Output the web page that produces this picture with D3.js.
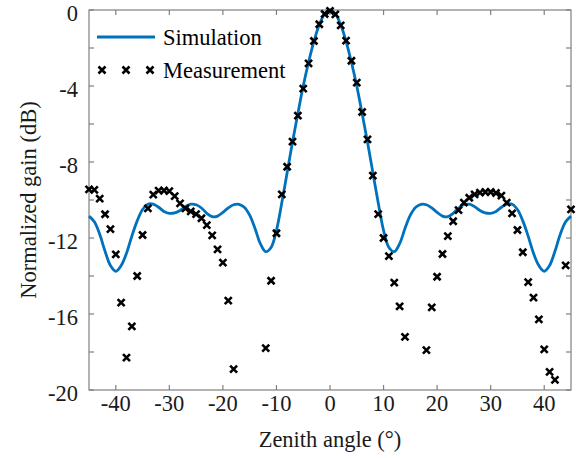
<!DOCTYPE html>
<html><head><meta charset="utf-8">
<script src="https://cdn.jsdelivr.net/npm/d3@7"></script>
<style>body{margin:0;background:#fff}svg{display:block}</style>
</head><body>
<script>
// ---- data ----
const simAngles = [-45,-44,-43,-42,-41,-40,-39,-38,-37,-36,-35,-34,-33,-32,-31,-30,-29,-28,-27,-26,-25,-24,-23,-22,-21,-20,-19,-18,-17,-16,-15,-14,-13,-12,-11,-10,-9,-8,-7,-6,-5,-4,-3,-2,-1,0,1,2,3,4,5,6,7,8,9,10,11,12,13,14,15,16,17,18,19,20,21,22,23,24,25,26,27,28,29,30,31,32,33,34,35,36,37,38,39,40,41,42,43,44,45];
const simGain = [-10.85,-11.15,-11.8,-12.7,-13.45,-13.75,-13.45,-12.8,-11.9,-11.1,-10.5,-10.22,-10.22,-10.38,-10.6,-10.7,-10.68,-10.55,-10.35,-10.22,-10.25,-10.42,-10.7,-10.88,-10.85,-10.65,-10.42,-10.25,-10.23,-10.38,-10.8,-11.5,-12.3,-12.72,-12.5,-11.6,-10.15,-8.55,-6.95,-5.45,-4.0,-2.75,-1.65,-0.78,-0.2,0,-0.2,-0.78,-1.65,-2.75,-4.0,-5.45,-6.95,-8.55,-10.15,-11.6,-12.5,-12.72,-12.3,-11.5,-10.8,-10.38,-10.23,-10.25,-10.42,-10.65,-10.85,-10.88,-10.7,-10.42,-10.25,-10.22,-10.35,-10.55,-10.68,-10.7,-10.6,-10.38,-10.22,-10.22,-10.5,-11.1,-11.9,-12.8,-13.45,-13.75,-13.45,-12.7,-11.8,-11.15,-10.85];
const measAngles = [-45,-44,-43,-42,-41,-40,-39,-38,-37,-36,-35,-34,-33,-32,-31,-30,-29,-28,-27,-26,-25,-24,-23,-22,-21,-20,-19,-18,-12,-11,-10,-9,-8,-7,-6,-5,-4,-3,-2,-1,0,1,2,3,4,5,6,7,8,9,10,11,12,13,14,18,19,20,21,22,23,24,25,26,27,28,29,30,31,32,33,34,35,36,37,38,39,40,41,42,44,45];
const measGain = [-9.44,-9.47,-9.93,-10.75,-11.53,-12.86,-15.4,-18.3,-16.65,-14.0,-11.84,-10.44,-9.72,-9.51,-9.5,-9.53,-9.8,-10.18,-10.44,-10.6,-10.74,-10.96,-11.32,-11.86,-12.6,-13.3,-15.3,-18.9,-17.8,-14.25,-11.75,-9.7,-8.25,-6.93,-5.56,-4.14,-2.81,-1.63,-0.75,-0.21,-0.05,-0.23,-0.81,-1.61,-2.67,-3.82,-5.37,-6.81,-8.72,-10.74,-12.0,-12.95,-14.35,-15.6,-17.2,-17.9,-15.65,-14.04,-12.84,-11.9,-11.12,-10.53,-10.14,-9.88,-9.7,-9.61,-9.58,-9.58,-9.63,-9.77,-10.14,-10.7,-11.58,-12.75,-14.32,-15.14,-16.28,-17.86,-19.05,-19.47,-13.44,-10.49];
const xTicks = [-40,-30,-20,-10,0,10,20,30,40];
const yTicks = [0,-2,-4,-6,-8,-10,-12,-14,-16,-18,-20];
const yLabels = [0,-4,-8,-12,-16,-20];
const seriesNames = ["Simulation","Measurement"];
const xTitle = "Zenith angle (°)";
const yTitle = "Normalized gain (dB)";

// ---- layout ----
const W = 576, H = 458;
const L = 89, R = 571, T = 10, B = 390;
const blue = "#0072BD", axisCol = "#808080";
const font = "'Liberation Serif','Times New Roman',serif";

const svg = d3.select("body").append("svg").attr("width", W).attr("height", H);
const x = d3.scaleLinear().domain([-45,45]).range([L,R]);
const y = d3.scaleLinear().domain([-20,0]).range([B,T]);

// box + ticks
const tl = 5;
const g = svg.append("g");
g.append("rect").attr("x",L).attr("y",T).attr("width",R-L).attr("height",B-T)
  .attr("fill","none").attr("stroke",axisCol).attr("stroke-width",1.2);
xTicks.forEach(t=>{
  g.append("line").attr("x1",x(t)).attr("x2",x(t)).attr("y1",B).attr("y2",B-tl).attr("stroke",axisCol).attr("stroke-width",1.2);
  g.append("line").attr("x1",x(t)).attr("x2",x(t)).attr("y1",T).attr("y2",T+tl).attr("stroke",axisCol).attr("stroke-width",1.2);
});
yTicks.forEach(t=>{
  g.append("line").attr("x1",L).attr("x2",L+tl).attr("y1",y(t)).attr("y2",y(t)).attr("stroke",axisCol).attr("stroke-width",1.2);
  g.append("line").attr("x1",R).attr("x2",R-tl).attr("y1",y(t)).attr("y2",y(t)).attr("stroke",axisCol).attr("stroke-width",1.2);
});
const fs = 22.5;
xTicks.forEach(t=>{
  g.append("text").attr("x",x(t)).attr("y",411).attr("text-anchor","middle")
   .attr("font-family",font).attr("font-size",fs).attr("fill","#1a1a1a").text(t);
});
yLabels.forEach(t=>{
  g.append("text").attr("x",78).attr("y",y(t)+10.5).attr("text-anchor","end")
   .attr("font-family",font).attr("font-size",fs).attr("fill","#1a1a1a").text(t);
});
svg.append("text").attr("x",(L+R)/2).attr("y",447).attr("text-anchor","middle")
  .attr("font-family",font).attr("font-size",fs).attr("fill","#1a1a1a").text(xTitle);
svg.append("text").attr("transform",`translate(36,${(T+B)/2}) rotate(-90)`).attr("text-anchor","middle")
  .attr("font-family",font).attr("font-size",fs).attr("fill","#1a1a1a").text(yTitle);

// simulation line
const simData = simAngles.map((a,i)=>[a,simGain[i]]);
svg.append("path").datum(simData)
  .attr("d", d3.line().x(d=>x(d[0])).y(d=>y(d[1])).curve(d3.curveCatmullRom.alpha(0.5)))
  .attr("fill","none").attr("stroke",blue).attr("stroke-width",2.8);

// measurement markers
const ms = 3.5;
const xPath = (cx,cy)=>`M${cx-ms},${cy-ms}L${cx+ms},${cy+ms}M${cx-ms},${cy+ms}L${cx+ms},${cy-ms}`;
const measData = measAngles.map((a,i)=>[a,measGain[i]]);
svg.append("g").selectAll("path").data(measData).join("path")
  .attr("d", d=>xPath(x(d[0]),y(d[1])))
  .attr("stroke","#000").attr("stroke-width",2.6).attr("fill","none");

// legend
const lg = svg.append("g");
lg.append("line").attr("x1",97).attr("x2",155).attr("y1",37).attr("y2",37).attr("stroke",blue).attr("stroke-width",2.8);
[102,126,150].forEach(cx=>lg.append("path").attr("d",xPath(cx,70)).attr("stroke","#000").attr("stroke-width",2.6));
lg.append("text").attr("x",163).attr("y",45).attr("font-family",font).attr("font-size",fs).attr("fill","#000").text(seriesNames[0]);
lg.append("text").attr("x",163).attr("y",78).attr("font-family",font).attr("font-size",fs).attr("fill","#000").text(seriesNames[1]);
</script>
</body></html>
